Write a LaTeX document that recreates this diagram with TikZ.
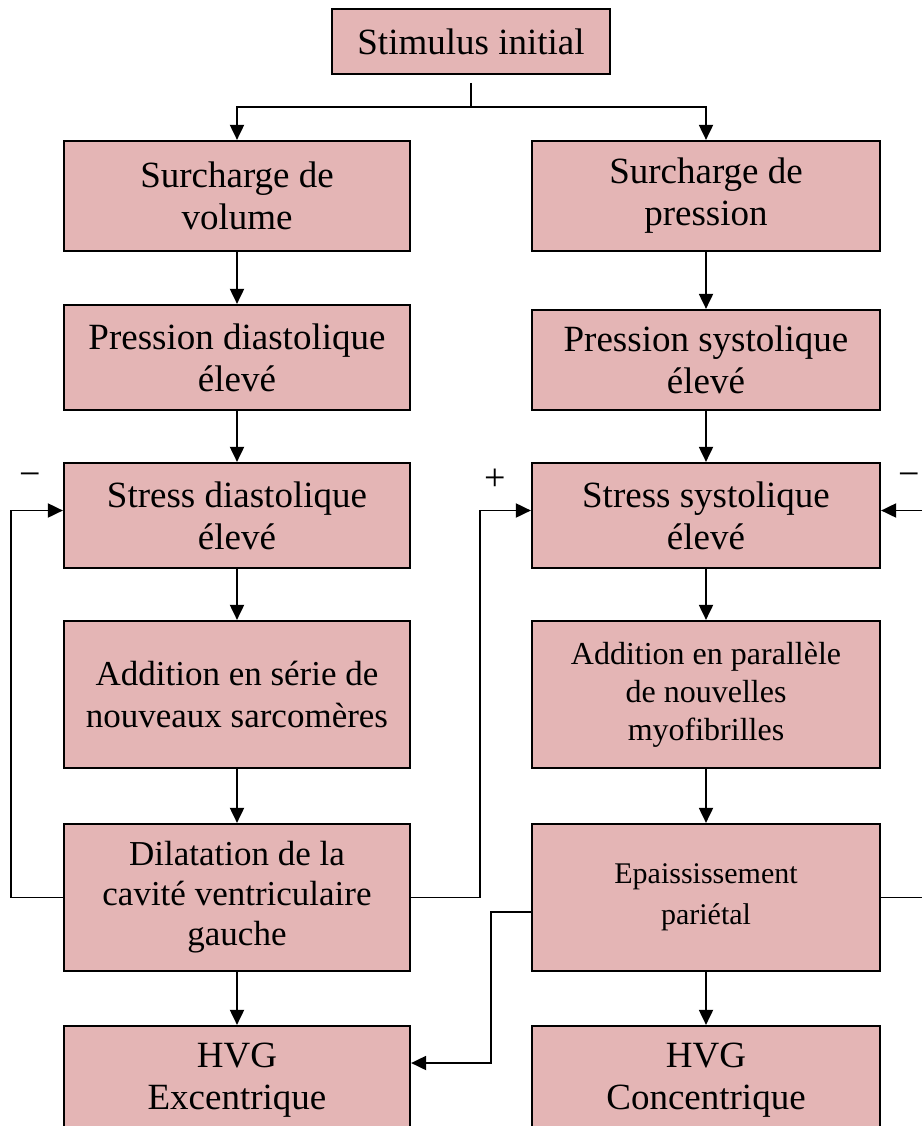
\documentclass[tikz,border=0pt]{standalone}
\usepackage{fontspec}
\setmainfont{Liberation Serif}
\usetikzlibrary{arrows.meta}
\definecolor{boxfill}{RGB}{228,181,181}
\begin{document}
\begin{tikzpicture}[x=1pt,y=-1pt,
  box/.style={draw=black, line width=2.2pt, fill=boxfill, align=center, inner sep=0pt,
    font=\fontsize{37}{42}\selectfont},
  lbox/.style={box, minimum width=346pt},
  rbox/.style={box, minimum width=348pt},
  link/.style={line width=1.9pt},
  conn/.style={link, -{Triangle[length=15pt,width=14pt]}},
  sign/.style={font=\fontsize{38}{40}\selectfont, inner sep=0pt}]
\useasboundingbox (0,0) rectangle (922,1126);
\clip (0,0) rectangle (922,1126);

\node[box, minimum width=278pt, minimum height=65pt] (stim) at (471,41.5) {Stimulus initial};

\node[lbox, minimum height=110pt] (sv) at (237,196) {Surcharge de\\volume};
\node[rbox, minimum height=110pt] (sp) at (706,196) {Surcharge de\\pression};

\node[lbox, minimum height=105pt] (pd) at (237,357.5) {Pression diastolique\\élevé};
\node[rbox, minimum height=100pt] (ps) at (706,360) {Pression systolique\\élevé};

\node[lbox, minimum height=105pt] (sd) at (237,515.5) {Stress diastolique\\élevé};
\node[rbox, minimum height=105pt] (ss) at (706,515.5) {Stress systolique\\élevé};

\node[lbox, minimum height=147pt, font=\fontsize{35}{42}\selectfont] (ase) at (237,694.5) {Addition en série de\\nouveaux sarcomères};
\node[rbox, minimum height=147pt, font=\fontsize{32}{38}\selectfont] (apa) at (706,694.5) {Addition en parallèle\\de nouvelles\\myofibrilles};

\node[lbox, minimum height=147pt, font=\fontsize{35}{40}\selectfont] (dil) at (237,897.5) {Dilatation de la\\cavité ventriculaire\\gauche};
\node[rbox, minimum height=147pt, font=\fontsize{30}{41}\selectfont] (epa) at (706,897.5) {Epaississement\\pariétal};

\node[lbox, minimum height=108pt] (hve) at (237,1080) {HVG\\Excentrique};
\node[rbox, minimum height=108pt] (hvc) at (706,1080) {HVG\\Concentrique};

% top split
\coordinate (s0) at (471,83);
\coordinate (sj) at (471,107);
\draw[link] (s0) -- (sj);
\draw[conn] (sj) -| (sv.north);
\draw[conn] (sj) -| (sp.north);

% vertical chains
\draw[conn] (sv.south) -- (pd.north);
\draw[conn] (pd.south) -- (sd.north);
\draw[conn] (sd.south) -- (ase.north);
\draw[conn] (ase.south) -- (dil.north);
\draw[conn] (dil.south) -- (hve.north);

\draw[conn] (sp.south) -- (ps.north);
\draw[conn] (ps.south) -- (ss.north);
\draw[conn] (ss.south) -- (apa.north);
\draw[conn] (apa.south) -- (epa.north);
\draw[conn] (epa.south) -- (hvc.north);

% feedback loops
\draw[conn] (dil.west) -- ++(-52,0) |- ([yshift=5pt]sd.west);
\draw[conn] (dil.east) -- ++(69,0) |- ([yshift=5pt]ss.west);
\coordinate (rin) at (922,510.5);
\draw[conn] (rin) -- (rin -| ss.east);
\coordinate (rout) at (922,897.5);
\draw[link] (epa.east) -- (rout);
\draw[conn] ([yshift=-14.5pt]epa.west) -- ++(-40,0) |- ([yshift=17pt]hve.east);

% signs
\node[sign] (m1) at (30,480) {−};
\node[sign] (p1) at (495,480) {+};
\node[sign] (m2) at (909,480) {−};
\end{tikzpicture}
\end{document}
